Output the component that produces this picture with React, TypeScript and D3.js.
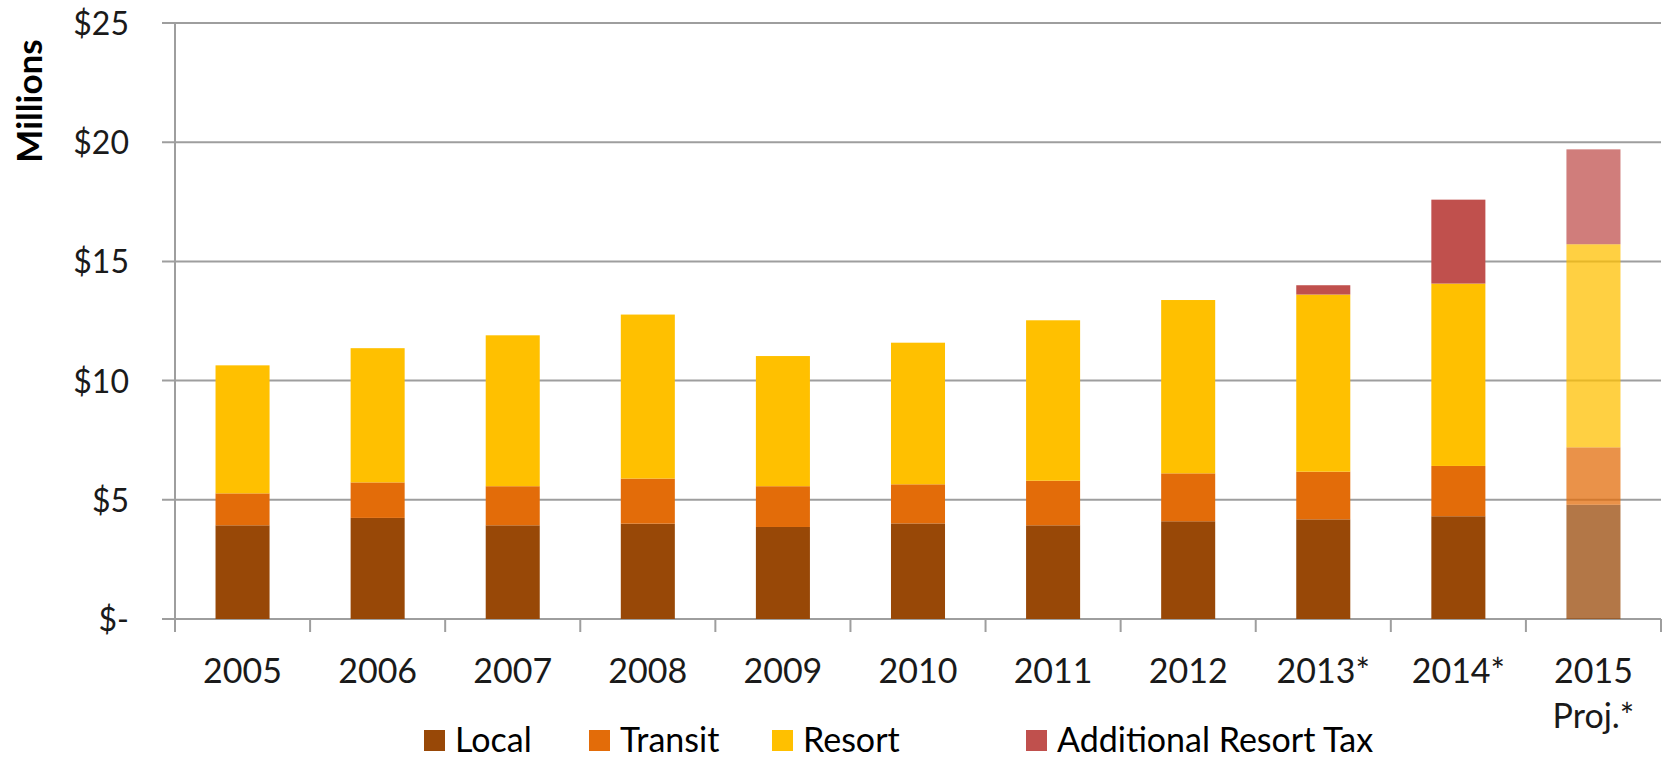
import React, { useEffect, useRef } from "react";
import * as d3 from "d3";

const categories = ["2005", "2006", "2007", "2008", "2009", "2010", "2011", "2012", "2013*", "2014*", "2015\nProj.*"];
const localVals = [3.93, 4.24, 3.93, 4.0, 3.86, 4.01, 3.93, 4.1, 4.18, 4.31, 4.79];
const transitVals = [1.34, 1.49, 1.64, 1.89, 1.71, 1.64, 1.87, 2.01, 2.0, 2.11, 2.41];
const resortVals = [5.37, 5.63, 6.33, 6.88, 5.46, 5.94, 6.73, 7.27, 7.43, 7.65, 8.52];
const additionalVals = [0, 0, 0, 0, 0, 0, 0, 0, 0.39, 3.52, 3.98];
const projected = [false, false, false, false, false, false, false, false, false, false, true];
const seriesNames = ["Local", "Transit", "Resort", "Additional Resort Tax"];
const seriesColors = ["#984807", "#E36C09", "#FFC000", "#C0504D"];
const yTicks = [0, 5, 10, 15, 20, 25];
const yTickLabels = ["$-", "$5", "$10", "$15", "$20", "$25"];

const W = 1671;
const H = 760;
const FONT = "Lato, 'Open Sans', sans-serif";
// legend swatch left edges (layout)
const LEGEND_X = [424, 589, 772, 1026];

export default function App() {
  const ref = useRef<SVGSVGElement | null>(null);

  useEffect(() => {
    document.body.style.margin = "0";
    const svg = d3.select(ref.current);
    svg.selectAll("*").remove();

    const left = 175, right = 1661, top = 23, bottom = 619;
    const x = d3.scaleBand<string>().domain(categories).range([left, right]).paddingInner(0.6).paddingOuter(0.3);
    const y = d3.scaleLinear().domain([0, 25]).range([bottom, top]);

    const rows = categories.map((c, i) => ({
      cat: c,
      Local: localVals[i],
      Transit: transitVals[i],
      Resort: resortVals[i],
      "Additional Resort Tax": additionalVals[i],
      proj: projected[i],
    }));
    const stacked = d3.stack<any>().keys(seriesNames)(rows);

    const gridColor = "#9E9E9E";
    svg.append("g")
      .selectAll("line")
      .data(yTicks)
      .join("line")
      .attr("x1", left - 13)
      .attr("x2", right)
      .attr("y1", (d) => y(d))
      .attr("y2", (d) => y(d))
      .attr("stroke", gridColor)
      .attr("stroke-width", 2);

    svg.append("line")
      .attr("x1", left).attr("x2", left)
      .attr("y1", top).attr("y2", bottom + 13)
      .attr("stroke", gridColor).attr("stroke-width", 2);

    const step = x.step();
    const boundaries = d3.range(categories.length + 1).map((i) => left + i * step);
    svg.append("g")
      .selectAll("line")
      .data(boundaries)
      .join("line")
      .attr("x1", (d) => d).attr("x2", (d) => d)
      .attr("y1", bottom).attr("y2", bottom + 13)
      .attr("stroke", gridColor).attr("stroke-width", 2);

    stacked.forEach((layer, si) => {
      svg.append("g")
        .selectAll("rect")
        .data(layer)
        .join("rect")
        .attr("x", (d: any) => x(d.data.cat) as number)
        .attr("width", x.bandwidth())
        .attr("y", (d: any) => y(d[1]))
        .attr("height", (d: any) => Math.max(0, y(d[0]) - y(d[1])))
        .attr("fill", seriesColors[si])
        .attr("fill-opacity", (d: any) => (d.data.proj ? 0.74 : 1));
    });

    svg.append("g")
      .selectAll("text")
      .data(yTicks)
      .join("text")
      .attr("x", 129)
      .attr("y", (d) => y(d) + 12)
      .attr("text-anchor", "end")
      .attr("font-family", FONT)
      .attr("font-size", 32)
      .attr("fill", "#1a1a1a")
      .text((d, i) => yTickLabels[i]);

    const xl = svg.append("g");
    categories.forEach((c) => {
      const lines = c.split("\n");
      const cxp = (x(c) as number) + x.bandwidth() / 2;
      const t = xl.append("text")
        .attr("x", cxp)
        .attr("y", 683)
        .attr("text-anchor", "middle")
        .attr("font-family", FONT)
        .attr("font-size", 34)
        .attr("fill", "#1a1a1a");
      lines.forEach((ln, li) => {
        t.append("tspan")
          .attr("x", cxp)
          .attr("y", 683 + li * 45)
          .text(ln);
      });
    });

    svg.append("text")
      .attr("transform", "translate(42,101) rotate(-90)")
      .attr("text-anchor", "middle")
      .attr("font-family", FONT)
      .attr("font-weight", "bold")
      .attr("font-size", 35)
      .attr("fill", "#000")
      .text("Millions");

    const lg = svg.append("g");
    const sq = 21, gapText = 10;
    seriesNames.forEach((name, i) => {
      const g = lg.append("g").attr("transform", `translate(${LEGEND_X[i]},0)`);
      g.append("rect").attr("x", 0).attr("y", 730).attr("width", sq).attr("height", sq).attr("fill", seriesColors[i]);
      g.append("text")
        .attr("x", sq + gapText)
        .attr("y", 752)
        .attr("font-family", FONT)
        .attr("font-size", 34)
        .attr("fill", "#000")
        .text(name);
    });
  }, []);

  return <svg ref={ref} width={W} height={H} style={{ display: "block", background: "#fff" }} />;
}
